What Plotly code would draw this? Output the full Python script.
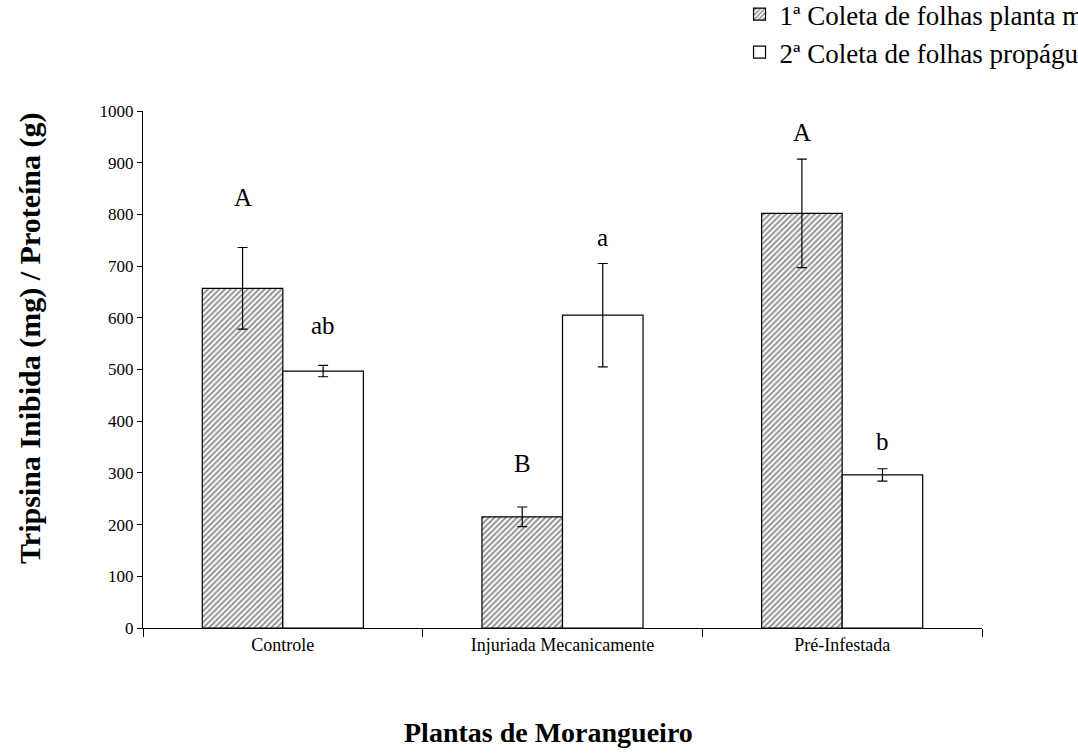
import plotly.graph_objects as go

# Data
categorias = ["Controle", "Injuriada Mecanicamente", "Pré-Infestada"]
coleta1 = [657, 215, 802]
coleta1_erro = [79, 19, 105]
coleta2 = [497, 605, 296]
coleta2_erro = [11, 100, 12]
serie_nomes = ["1ª Coleta de folhas planta mãe", "2ª Coleta de folhas propágulos"]
letras1 = ["A", "B", "A"]
letras1_y = [833, 318, 959]
letras2 = ["ab", "a", "b"]
letras2_y = [586, 756, 360]
y_ticks = list(range(0, 1001, 100))

serif = "Liberation Serif, Times New Roman, serif"

fig = go.Figure()
fig.add_trace(go.Bar(
    name=serie_nomes[0], x=categorias, y=coleta1,
    marker=dict(color="white", line=dict(color="black", width=1.2),
                pattern=dict(shape="/", size=4, solidity=0.5,
                             fgcolor="#262626", bgcolor="white")),
    error_y=dict(type="data", array=coleta1_erro, color="black", thickness=1.2, width=5),
))
fig.add_trace(go.Bar(
    name=serie_nomes[1], x=categorias, y=coleta2,
    marker=dict(color="white", line=dict(color="black", width=1.2)),
    error_y=dict(type="data", array=coleta2_erro, color="black", thickness=1.2, width=5),
))

annotations = []
for cat, txt, yv in zip(categorias, letras1, letras1_y):
    annotations.append(dict(x=cat, y=yv, xref="x", yref="y", text=txt, showarrow=False,
                            xshift=-40, yanchor="middle", font=dict(family=serif, size=25, color="black")))
for cat, txt, yv in zip(categorias, letras2, letras2_y):
    annotations.append(dict(x=cat, y=yv, xref="x", yref="y", text=txt, showarrow=False,
                            xshift=40, yanchor="middle", font=dict(family=serif, size=25, color="black")))

# axis titles
annotations.append(dict(x=-0.1347, y=0.561, xref="paper", yref="paper",
                        text="<b>Tripsina Inibida (mg) / Proteína (g)</b>",
                        textangle=-90, showarrow=False, xanchor="center", yanchor="middle",
                        font=dict(family=serif, size=30, color="black")))
annotations.append(dict(x=0.483, y=-0.202, xref="paper", yref="paper",
                        text="<b>Plantas de Morangueiro</b>",
                        showarrow=False, xanchor="center", yanchor="middle",
                        font=dict(family=serif, size=28, color="black")))

fig.update_layout(
    width=1078, height=753,
    margin=dict(l=143, r=96, t=111, b=125, autoexpand=False),
    paper_bgcolor="white", plot_bgcolor="white",
    barmode="group", bargap=0.424, bargroupgap=0,
    font=dict(family=serif, size=16, color="black"),
    showlegend=True,
    legend=dict(x=0.711, y=1.234, xanchor="left", yanchor="top",
                font=dict(family=serif, size=27, color="black"),
                bgcolor="rgba(0,0,0,0)", itemwidth=30, tracegroupgap=0),
    annotations=annotations,
)
fig.update_xaxes(type="category", tickson="boundaries", ticks="outside", ticklen=8,
                 tickcolor="black", showline=True, linecolor="black", linewidth=1.2,
                 showgrid=False, zeroline=False, tickfont=dict(family=serif, size=18))
fig.update_yaxes(range=[0, 1000], tickvals=y_ticks, ticks="outside", ticklen=5,
                 tickcolor="black", showline=True, linecolor="black", linewidth=1.2,
                 showgrid=False, zeroline=False, tickfont=dict(family=serif, size=17))

fig.write_html("out.html")
